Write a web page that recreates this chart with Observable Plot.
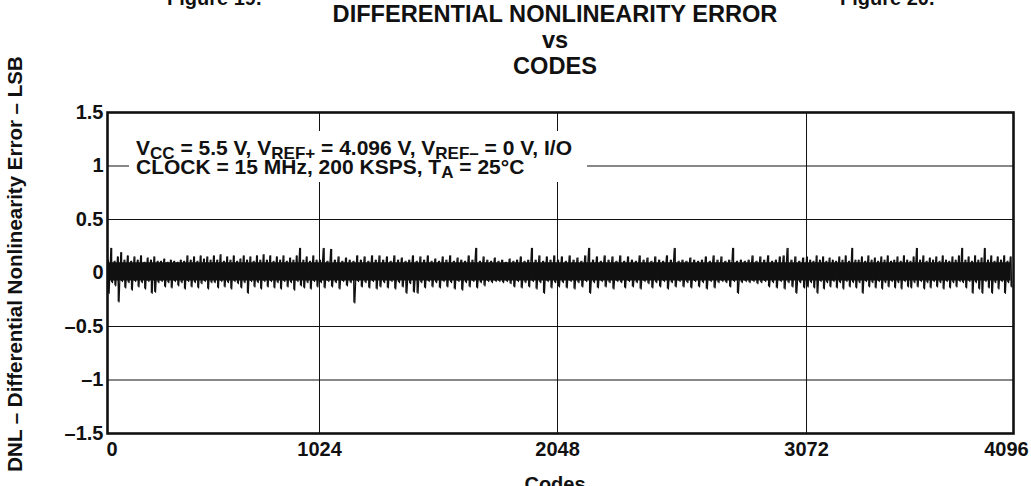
<!DOCTYPE html>
<html>
<head>
<meta charset="utf-8">
<script src="https://cdn.jsdelivr.net/npm/d3@7"></script>
<script src="https://cdn.jsdelivr.net/npm/@observablehq/plot@0.6"></script>
<style>
  html, body { margin: 0; padding: 0; background: #fff; }
  #wrap { position: relative; width: 1031px; height: 486px; overflow: hidden; background: #fff;
          font-family: "Liberation Sans", Arial, Helvetica, sans-serif; font-weight: bold; color: #111; }
  #wrap svg { position: absolute; left: 0; top: 0; }
  .abs { position: absolute; white-space: nowrap; }
  .title { left: 555px; top: 1px; transform: translateX(-50%); text-align: center; font-size: 23.6px; line-height: 26px; }
  .fig { font-size: 20px; line-height: 20px; top: -12px; }
  .ylab { left: 15px; top: 264px; font-size: 20.5px; line-height: 20px; transform: translate(-50%, -50%) rotate(-90deg); }
  .xlab { left: 555px; top: 474px; font-size: 20px; line-height: 20px; transform: translateX(-50%); }
  .note { left: 129px; top: 131px; width: 451px; height: 44px; padding: 7px 0 0 7px; background: #fff;
          font-size: 21px; line-height: 19px; }
  .sub { font-size: 17px; position: relative; top: 4px; line-height: 0; }
</style>
</head>
<body>
<div id="wrap">
  <div class="abs fig" style="left:167px">Figure 19.</div>
  <div class="abs fig" style="left:840px">Figure 20.</div>
  <div class="abs title">DIFFERENTIAL NONLINEARITY ERROR<br>vs<br>CODES</div>
  <div class="abs ylab">DNL – Differential Nonlinearity Error – LSB</div>
  <div class="abs xlab">Codes</div>
</div>
<script>
// ---- data ----
const binSize = 16; // codes per sampled bin
const dnlHigh = [
  0.12,0.23,0.11,0.15,0.19,0.12,0.16,0.11,0.15,0.12,0.16,0.10,0.14,0.12,0.15,0.11,
  0.11,0.13,0.10,0.12,0.11,0.10,0.12,0.11,0.16,0.12,0.15,0.11,0.16,0.13,0.15,0.12,
  0.16,0.12,0.17,0.11,0.15,0.12,0.16,0.11,0.13,0.16,0.12,0.15,0.11,0.16,0.12,0.17,
  0.12,0.16,0.11,0.15,0.12,0.16,0.11,0.14,0.12,0.16,0.23,0.12,0.15,0.11,0.16,0.12,
  0.12,0.23,0.11,0.22,0.12,0.15,0.11,0.14,0.12,0.11,0.16,0.12,0.15,0.11,0.16,0.12,
  0.16,0.12,0.15,0.11,0.16,0.12,0.14,0.11,0.12,0.16,0.11,0.15,0.12,0.16,0.11,0.13,
  0.11,0.15,0.12,0.16,0.11,0.14,0.12,0.11,0.16,0.12,0.23,0.11,0.15,0.12,0.11,0.14,
  0.11,0.12,0.10,0.13,0.11,0.12,0.15,0.11,0.12,0.23,0.12,0.16,0.11,0.15,0.12,0.16,
  0.12,0.15,0.11,0.16,0.12,0.14,0.11,0.16,0.23,0.12,0.15,0.11,0.16,0.12,0.15,0.11,
  0.16,0.11,0.15,0.12,0.11,0.16,0.12,0.14,0.11,0.15,0.12,0.11,0.16,0.12,0.23,0.11,
  0.12,0.11,0.14,0.12,0.11,0.12,0.15,0.11,0.16,0.12,0.15,0.11,0.12,0.23,0.11,0.12,
  0.11,0.12,0.16,0.11,0.15,0.12,0.16,0.11,0.12,0.15,0.16,0.23,0.12,0.15,0.11,0.14,
  0.15,0.12,0.11,0.16,0.12,0.15,0.11,0.14,0.12,0.11,0.15,0.12,0.16,0.11,0.23,0.12,
  0.12,0.15,0.11,0.16,0.12,0.14,0.11,0.15,0.12,0.16,0.11,0.12,0.15,0.11,0.16,0.12,
  0.11,0.15,0.23,0.12,0.16,0.11,0.14,0.12,0.15,0.11,0.16,0.12,0.11,0.15,0.12,0.16,
  0.23,0.12,0.15,0.11,0.16,0.12,0.14,0.23,0.12,0.16,0.11,0.15,0.12,0.16,0.11,0.15
];
const dnlLow = [
  -0.19,-0.09,-0.12,-0.27,-0.08,-0.14,-0.09,-0.16,-0.08,-0.13,-0.09,-0.15,-0.08,-0.19,-0.18,-0.09,
  -0.08,-0.13,-0.09,-0.14,-0.08,-0.12,-0.09,-0.15,-0.08,-0.13,-0.09,-0.14,-0.10,-0.08,-0.15,-0.09,
  -0.09,-0.14,-0.08,-0.13,-0.09,-0.15,-0.08,-0.10,-0.14,-0.09,-0.19,-0.08,-0.13,-0.09,-0.15,-0.08,
  -0.13,-0.08,-0.14,-0.09,-0.15,-0.08,-0.13,-0.09,-0.16,-0.08,-0.12,-0.14,-0.09,-0.15,-0.08,-0.13,
  -0.09,-0.14,-0.08,-0.13,-0.09,-0.15,-0.08,-0.12,-0.09,-0.28,-0.08,-0.13,-0.09,-0.14,-0.08,-0.15,
  -0.13,-0.09,-0.14,-0.08,-0.15,-0.09,-0.13,-0.19,-0.10,-0.18,-0.19,-0.09,-0.14,-0.08,-0.13,-0.09,
  -0.14,-0.08,-0.13,-0.09,-0.15,-0.08,-0.16,-0.09,-0.13,-0.08,-0.14,-0.09,-0.12,-0.08,-0.09,-0.08,
  -0.08,-0.09,-0.08,-0.10,-0.13,-0.08,-0.14,-0.09,-0.13,-0.08,-0.15,-0.09,-0.19,-0.08,-0.14,-0.09,
  -0.13,-0.09,-0.14,-0.08,-0.15,-0.09,-0.13,-0.08,-0.19,-0.09,-0.14,-0.08,-0.13,-0.09,-0.15,-0.08,
  -0.09,-0.14,-0.08,-0.13,-0.09,-0.15,-0.08,-0.10,-0.14,-0.09,-0.13,-0.08,-0.15,-0.09,-0.13,-0.08,
  -0.13,-0.09,-0.14,-0.08,-0.13,-0.09,-0.15,-0.08,-0.14,-0.09,-0.08,-0.09,-0.13,-0.08,-0.19,-0.09,
  -0.08,-0.09,-0.08,-0.10,-0.09,-0.08,-0.13,-0.09,-0.14,-0.08,-0.15,-0.09,-0.13,-0.19,-0.09,-0.14,
  -0.13,-0.09,-0.14,-0.19,-0.08,-0.15,-0.09,-0.13,-0.08,-0.14,-0.09,-0.15,-0.08,-0.13,-0.09,-0.14,
  -0.09,-0.19,-0.08,-0.13,-0.09,-0.14,-0.08,-0.15,-0.09,-0.13,-0.08,-0.14,-0.09,-0.15,-0.08,-0.13,
  -0.14,-0.09,-0.13,-0.08,-0.15,-0.09,-0.14,-0.08,-0.13,-0.09,-0.15,-0.08,-0.14,-0.09,-0.13,-0.08,
  -0.09,-0.14,-0.08,-0.19,-0.09,-0.15,-0.19,-0.08,-0.14,-0.19,-0.09,-0.15,-0.08,-0.19,-0.09,-0.13
];
const xTicks = [0, 1024, 2048, 3072, 4096];
const yTicks = [-1.5, -1, -0.5, 0, 0.5, 1, 1.5];
const yGrid = [-1, -0.5, 0.5, 1];

// ---- build series: each bin contributes its high and its low excursion ----
const points = [];
const bins = [];
dnlHigh.forEach((h, i) => {
  points.push({code: i * binSize, dnl: h});
  points.push({code: i * binSize + binSize / 2, dnl: dnlLow[i]});
  bins.push({code: i * binSize + binSize / 4, hi: h, lo: dnlLow[i]});
});

// the printed axis is slightly non-uniform; reproduce its spacing with a scale transform
const axisWarp = d3.scaleLinear().domain(xTicks).range([0, 958.5, 2034.5, 3160.3, 4096]);

const ink = "#111";
const fmtY = d => d < 0 ? "\u2013" + Math.abs(d) : String(d);
const axisText = {tickSize: 0, label: null, fontSize: 20, fontWeight: "bold", fill: ink};

const chart = Plot.plot({
  width: 1031,
  height: 486,
  marginLeft: 107,
  marginRight: 18,
  marginTop: 112,
  marginBottom: 53,
  style: {fontFamily: "'Liberation Sans', Arial, sans-serif", fontWeight: "bold", color: ink, background: "transparent", overflow: "visible"},
  x: {domain: [0, 4096], transform: axisWarp},
  y: {domain: [-1.5, 1.5]},
  marks: [
    Plot.gridX(xTicks.slice(1, -1), {stroke: ink, strokeOpacity: 1, strokeWidth: 1}),
    Plot.gridY(yGrid, {stroke: ink, strokeOpacity: 1, strokeWidth: 1}),
    // dense core of the trace (where neighbouring excursions overlap)
    Plot.areaY(bins, {x: "code", y1: d => Math.max(d.lo, -0.075), y2: d => Math.min(d.hi, 0.095), fill: ink}),
    Plot.ruleX(bins, {x: "code", y1: "lo", y2: "hi", stroke: ink, strokeWidth: 1.3}),
    Plot.line(points, {x: "code", y: "dnl", stroke: ink, strokeWidth: 1.2}),
    Plot.frame({stroke: ink, strokeWidth: 2.6}),
    Plot.axisY(yTicks, {...axisText, tickPadding: 4, tickFormat: fmtY}),
    Plot.axisX(xTicks.slice(1, -1), {...axisText, tickPadding: 8, tickFormat: d => String(d)}),
    Plot.axisX([xTicks[0]], {...axisText, tickPadding: 8, tickFormat: d => String(d), textAnchor: "start", dx: -1}),
    Plot.axisX([xTicks[4]], {...axisText, tickPadding: 8, tickFormat: d => String(d), dx: -7})
  ]
});

const wrap = document.getElementById("wrap");
wrap.insertBefore(chart, wrap.firstChild);

const note = document.createElement("div");
note.className = "abs note";
note.innerHTML = 'V<span class="sub">CC</span> = 5.5 V, V<span class="sub">REF+</span> = 4.096 V, V<span class="sub">REF\u2013</span> = 0 V, I/O<br>' +
                 'CLOCK = 15 MHz, 200 KSPS, T<span class="sub">A</span> = 25\u00B0C';
wrap.appendChild(note);
</script>
</body>
</html>
